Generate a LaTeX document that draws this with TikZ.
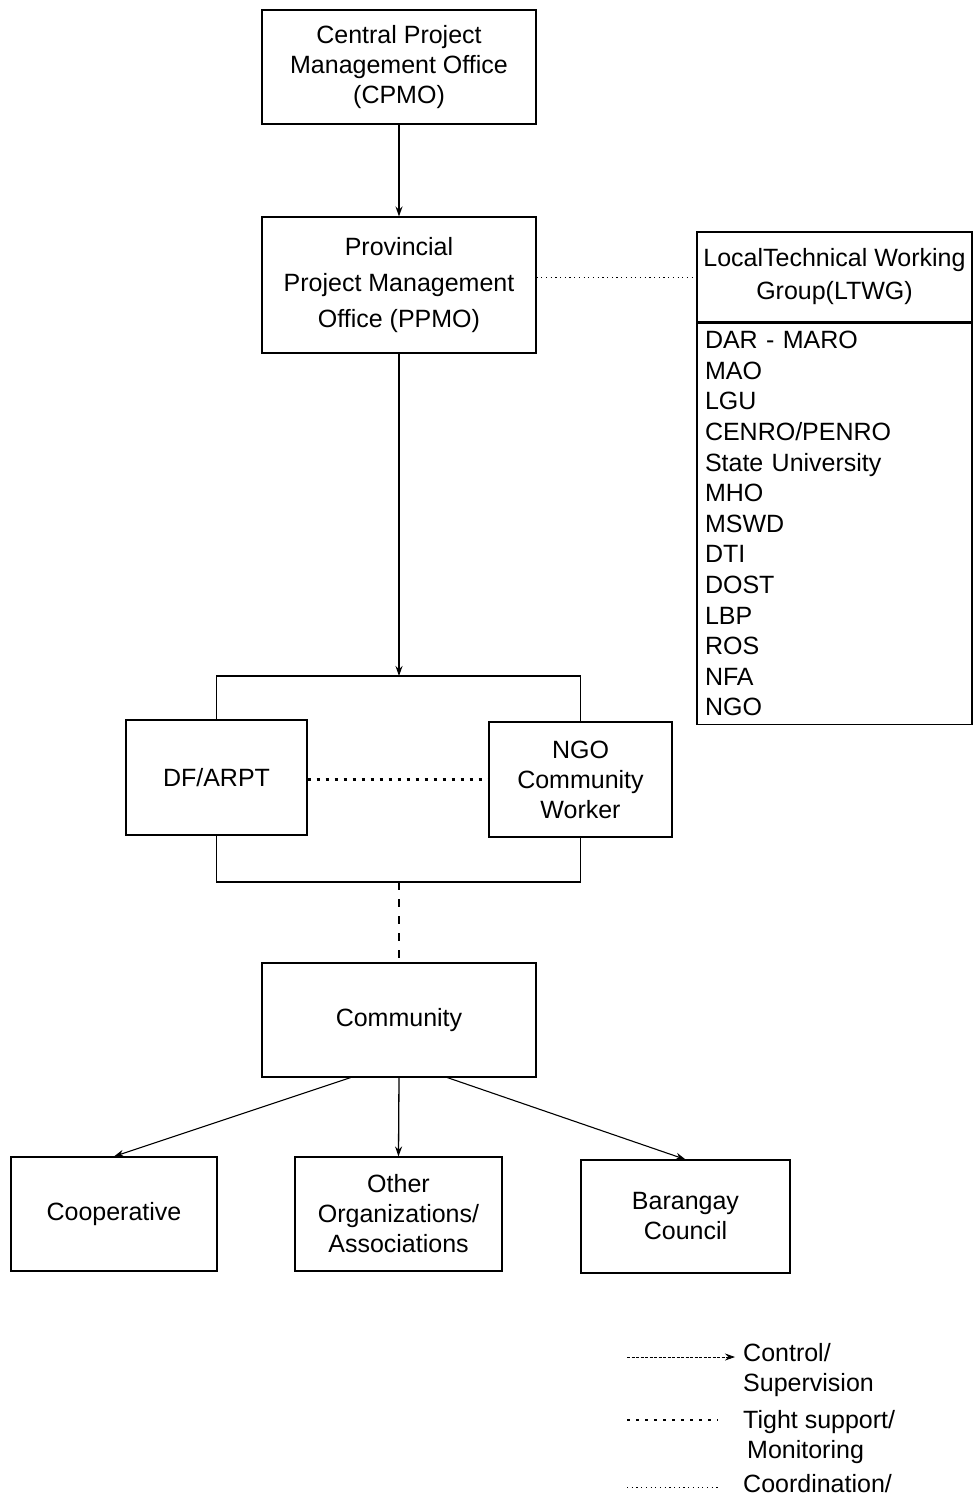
\documentclass[tikz,border=0pt]{standalone}
\usepackage{fontspec}
\setmainfont{Liberation Sans}
\usetikzlibrary{arrows.meta}

\begin{document}
\begin{tikzpicture}[x=1pt,y=-1pt,
  font=\fontsize{25}{30}\selectfont,
  box/.style={draw,line width=1.1pt,align=center,inner sep=0pt},
  ctrl/.style={line width=1.3pt,-{Stealth[length=10pt,width=7pt]}},
  tight/.style={line width=2.4pt,dash pattern=on 3pt off 6pt},
  coord/.style={line width=0.8pt,dash pattern=on 1.2pt off 3.5pt}]
\useasboundingbox[fill=white] (0,0) rectangle (975,1502);
\node[box,minimum width=274pt,minimum height=114pt] (cpmo) at (399,67) {Central Project\\Management Office\\(CPMO)};
\node[box,minimum width=274pt,minimum height=136pt] (ppmo) at (399,285) {Provincial\\[6pt]Project Management\\[6pt]Office (PPMO)};
\node[box,minimum width=275pt,minimum height=90pt] (ltwg) at (834.5,277) {LocalTechnical Working\\[3pt]Group(LTWG)};
\node[box,anchor=north,minimum height=401pt,text width=259pt,inner xsep=8pt,align=left,
  font=\fontsize{25}{30.6}\selectfont] (ltwglist) at (ltwg.south)
  {DAR - MARO\\MAO\\LGU\\CENRO/PENRO\\State University\\MHO\\MSWD\\DTI\\DOST\\LBP\\ROS\\NFA\\NGO};
\node[box,minimum width=181pt,minimum height=115pt] (dfarpt) at (216.5,777.5) {DF/ARPT};
\node[box,minimum width=183pt,minimum height=115pt] (ngocw) at (580.5,779.5) {NGO\\Community\\Worker};
\node[box,minimum width=274pt,minimum height=114pt] (community) at (399,1020) {Community};
\node[box,minimum width=206pt,minimum height=114pt] (coop) at (114,1214) {Cooperative};
\node[box,minimum width=207pt,minimum height=114pt] (otherorg) at (398.5,1214) {Other\\Organizations/\\Associations};
\node[box,minimum width=209pt,minimum height=113pt] (brgy) at (685.5,1216.5) {Barangay\\Council};
\coordinate (topbar) at (399,676);
\coordinate (botbar) at (399,882);
\draw[ctrl] (cpmo) -- (ppmo);
\draw[ctrl] (ppmo) -- (topbar);
\draw[coord] (ppmo.east |- ltwg.west) -- (ltwg.west);
\draw[line width=1.1pt] (dfarpt.north) |- (topbar) -| (ngocw.north);
\draw[line width=1.1pt] (dfarpt.south) |- (botbar) -| (ngocw.south);
\draw[tight] (dfarpt.east |- ngocw.west) -- (ngocw.west);
\draw[line width=1.2pt,dash pattern=on 8pt off 9pt] (botbar) -- (community.north);
\draw[ctrl,line width=1.1pt] (community.230) -- (coop.north);
\draw[ctrl] (community.south) -- (otherorg.north);
\draw[ctrl,line width=1.1pt] (community.-50) -- (brgy.north);
\coordinate (ctrlA) at (627,1357);
\coordinate (ctrlB) at (735,1357);
\coordinate (tightA) at (627,1420);
\coordinate (tightB) at (718,1420);
\coordinate (coordA) at (627,1487);
\coordinate (coordB) at (720,1487);
\draw[ctrl,line width=0.8pt,dash pattern=on 3pt off 1.5pt] (ctrlA) -- (ctrlB);
\draw[tight] (tightA) -- (tightB);
\draw[coord] (coordA) -- (coordB);
\node[anchor=west,align=left,inner sep=0pt] (ctrltxt) at (743,1370) {Control/\\Supervision};
\node[anchor=west,align=left,inner sep=0pt] (tighttxt) at (743,1437) {Tight support/\\\hspace{4pt}Monitoring};
\node[anchor=west,align=left,inner sep=0pt] (coordtxt) at (743,1484) {Coordination/};
\end{tikzpicture}
\end{document}
